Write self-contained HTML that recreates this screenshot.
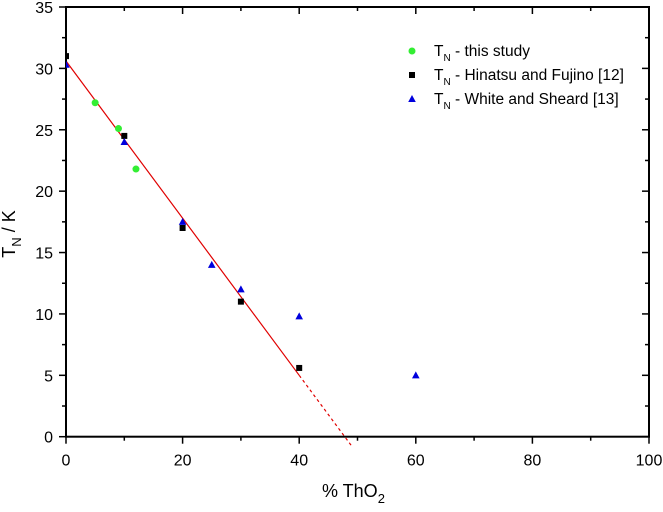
<!DOCTYPE html>
<html><head><meta charset="utf-8"><style>
body{margin:0;background:#fff;font-family:"Liberation Sans",Arial,sans-serif}
svg text{font-family:"Liberation Sans",Arial,sans-serif}
</style></head><body>
<svg id="c" width="663" height="507" viewBox="0 0 663 507"></svg>
<script>
const xTicks=[0,20,40,60,80,100];
const yTicks=[0,5,10,15,20,25,30,35];
const studyX=[5,9,12];
const studyY=[27.2,25.1,21.8];
const hinX=[0,10,20,30,40];
const hinY=[31,24.5,17,11,5.6];
const whiteX=[0,10,20,25,30,40,60];
const whiteY=[30.3,24,17.5,14,12,9.8,5];
const fitX=[0,40,49];
const fitY=[30.6,5,-0.76];
const legendLabels=[" - this study"," - Hinatsu and Fujino [12]"," - White and Sheard [13]"];
const NS="http://www.w3.org/2000/svg";
const svg=document.getElementById('c');
const L=66,R=649,T=7,B=436.7;
const sx=v=>L+(R-L)*v/100, sy=v=>B-(B-T)*v/35;
function mk(t,a,p){const e=document.createElementNS(NS,t);for(const k in a)e.setAttribute(k,a[k]);(p||svg).appendChild(e);return e;}
const defs=mk('defs',{});const cp=mk('clipPath',{id:'cl'},defs);mk('rect',{x:L,y:T,width:R-L,height:B-T+14},cp);
const fs=mk('line',{x1:sx(fitX[0]),y1:sy(fitY[0]),x2:sx(fitX[1]),y2:sy(fitY[1]),stroke:'#e00000','stroke-width':1.2});


const fd=mk('line',{x1:sx(fitX[1]),y1:sy(fitY[1]),x2:sx(fitX[2]),y2:sy(fitY[2]),stroke:'#e00000','stroke-width':1.2,'stroke-dasharray':'3,3'});


const fr=mk('rect',{x:L,y:T,width:R-L,height:B-T,fill:'none',stroke:'#000','stroke-width':2});


for(let v=0;v<=100;v+=10){const maj=v%20==0;
 mk('line',{x1:sx(v),x2:sx(v),y1:B,y2:B+(maj?7:4),stroke:'#000','stroke-width':1.5});
 mk('line',{x1:sx(v),x2:sx(v),y1:T,y2:T+(maj?7:4),stroke:'#000','stroke-width':1.5});}
for(let v=0;v<=35;v+=2.5){const maj=v%5==0;
 mk('line',{x1:L,x2:L-(maj?7:4),y1:sy(v),y2:sy(v),stroke:'#000','stroke-width':1.5});
 mk('line',{x1:R,x2:R-(maj?7:4),y1:sy(v),y2:sy(v),stroke:'#000','stroke-width':1.5});}
xTicks.forEach(v=>{const t=mk('text',{x:sx(v),y:B+29,'text-anchor':'middle','font-size':16});t.textContent=v;
 
 });
yTicks.forEach(v=>{const t=mk('text',{x:L-13,y:sy(v)+6,'text-anchor':'end','font-size':16});t.textContent=v;
 
 });
const xt=mk('text',{x:322,y:497,'font-size':18});xt.innerHTML='% ThO<tspan font-size="13" dy="6">2</tspan>';


const yt=mk('text',{transform:'translate(15,234) rotate(-90)','text-anchor':'middle','font-size':18});yt.innerHTML='T<tspan font-size="13" dy="6">N</tspan><tspan dy="-6"> / K</tspan>';


const g=mk('g',{'clip-path':'url(#cl)'});
function circ(x,y,p){return mk('circle',{cx:x,cy:y,r:3.5,fill:'#33ee33'},p);}
function sq(x,y,p){return mk('rect',{x:x-3,y:y-3,width:6,height:6,fill:'#000'},p);}
function tri(x,y,p){return mk('polygon',{points:`${x-3.8},${y+3} ${x+3.8},${y+3} ${x},${y-4}`,fill:'#0000dd'},p);}
hinX.forEach((v,i)=>{const e=sq(sx(v),sy(hinY[i]),g);
 
 });
whiteX.forEach((v,i)=>{const e=tri(sx(v),sy(whiteY[i]),g);
 
 });
studyX.forEach((v,i)=>{const e=circ(sx(v),sy(studyY[i]),g);
 
 });
const fns=[circ,sq,tri];
legendLabels.forEach((lab,i)=>{const y=51+i*24;const m=fns[i](412,y);
 
 
 const t=mk('text',{x:434,y:y+5,'font-size':15.5});t.innerHTML='T<tspan font-size="10" dy="5">N</tspan><tspan dy="-5">'+lab+'</tspan>';
 
 });
</script>
</body></html>
